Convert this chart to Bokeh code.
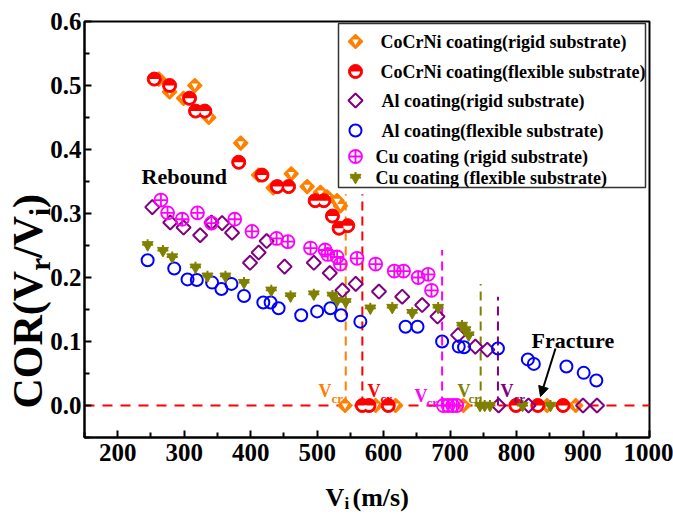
import numpy as np
from bokeh.plotting import figure
from bokeh.models import Range1d, FixedTicker, PrintfTickFormatter, Label, Arrow, NormalHead
from bokeh.embed import file_html
from bokeh.resources import INLINE

# ---------------- data ----------------
cocrni_rigid_v = [262, 278, 299, 316, 337, 385, 412, 434, 461, 485, 505, 515, 530, 535,
                  542, 588, 618, 720, 846, 889]
cocrni_rigid_cor = [0.51, 0.49, 0.48, 0.50, 0.45, 0.41, 0.36, 0.34, 0.362, 0.342, 0.333, 0.326, 0.32, 0.312,
                    0, 0, 0, 0, 0, 0]

cocrni_flex_v = [255, 278, 308, 317, 331, 382, 417, 440, 457, 497, 510, 523, 533, 546,
                 568, 578, 607, 799, 832, 870]
cocrni_flex_cor = [0.51, 0.50, 0.48, 0.46, 0.46, 0.38, 0.36, 0.342, 0.342, 0.32, 0.32, 0.296, 0.277, 0.281,
                   0, 0, 0, 0, 0, 0]

al_rigid_v = [252, 279, 299, 324, 341, 357, 372, 399, 412, 424, 451, 495, 519, 538, 558, 593,
              628, 658, 681, 712, 738, 756, 773, 818, 900, 921]
al_rigid_cor = [0.31, 0.286, 0.278, 0.266, 0.286, 0.285, 0.27, 0.223, 0.239, 0.257, 0.217, 0.223, 0.207,
                0.18, 0.19, 0.178, 0.17, 0.157, 0.139, 0.11, 0.092, 0.087, 0, 0, 0, 0]

al_flex_v = [245, 285, 305, 319, 342, 356, 371, 390, 419, 430, 442, 476, 500, 520, 536, 565,
             633, 651, 688, 713, 721, 772, 817, 826, 875, 901, 920]
al_flex_cor = [0.227, 0.214, 0.197, 0.196, 0.192, 0.182, 0.19, 0.171, 0.161, 0.161, 0.152, 0.141, 0.147,
               0.152, 0.141, 0.131, 0.123, 0.123, 0.10, 0.092, 0.091, 0.089, 0.072, 0.065, 0.061,
               0.051, 0.039]

cu_rigid_v = [265, 275, 297, 320, 341, 376, 402, 439, 456, 490, 512, 516, 530, 535, 560, 588,
              616, 630, 652, 667, 672, 690, 697, 704, 710]
cu_rigid_cor = [0.321, 0.301, 0.291, 0.301, 0.285, 0.291, 0.272, 0.261, 0.256, 0.246, 0.243, 0.236,
                0.232, 0.221, 0.23, 0.221, 0.21, 0.21, 0.20, 0.205, 0.18, 0, 0, 0, 0]

cu_flex_v = [245, 268, 282, 317, 335, 362, 390, 431, 460, 495, 523, 530, 543, 580, 613, 643,
             682, 718, 723, 728, 745, 752, 760, 809, 851]
cu_flex_cor = [0.251, 0.242, 0.232, 0.216, 0.202, 0.202, 0.192, 0.18, 0.171, 0.174, 0.172, 0.164,
               0.162, 0.152, 0.153, 0.145, 0.153, 0.125, 0.118, 0.11, 0, 0, 0, 0, 0]

# critical velocities (dashed markers) and the COR where each dashed line starts
vcr_v = [543, 568, 688, 746, 772]
vcr_top = [0.33, 0.33, 0.243, 0.19, 0.17]
vcr_series = ["cocrni_rigid", "cocrni_flex", "cu_rigid", "cu_flex", "al_rigid"]

x_ticks = [200, 300, 400, 500, 600, 700, 800, 900, 1000]
x_minor = [150, 250, 350, 450, 550, 650, 750, 850, 950]
y_ticks = [0.0, 0.1, 0.2, 0.3, 0.4, 0.5, 0.6]
y_minor = [-0.05, 0.05, 0.15, 0.25, 0.35, 0.45, 0.55]

legend_labels = ["CoCrNi coating(rigid substrate)", "CoCrNi coating(flexible substrate)",
                 "Al coating(rigid substrate)", "Al coating(flexible substrate)",
                 "Cu coating (rigid substrate)", "Cu coating (flexible substrate)"]

# ---------------- styling ----------------
ORANGE = "#FF8000"
RED = "#FF0000"
PURPLE = "#800080"
BLUE = "#0000FF"
MAGENTA = "#FF00FF"
OLIVE = "#808000"
COLORS = {"cocrni_rigid": ORANGE, "cocrni_flex": RED, "al_rigid": PURPLE,
          "al_flex": BLUE, "cu_rigid": MAGENTA, "cu_flex": OLIVE}
FONT = "Liberation Serif"

W, H = 673, 514
FL, FR, FT, FB = 84, 649, 21, 437          # plot box in canvas pixels
X0, X1, Y0, Y1 = 150, 1000, -0.05, 0.6     # axis limits

ppx = (FR - FL) / (X1 - X0)
ppy = (FB - FT) / (Y1 - Y0)
xr = Range1d(X0 - FL / ppx, X1 + (W - FR) / ppx)
yr = Range1d(Y0 - (H - FB) / ppy, Y1 + FT / ppy)


def dx(px):
    return X0 + (px - FL) / ppx


def dy(py):
    return Y1 - (py - FT) / ppy


p = figure(width=W, height=H, x_range=xr, y_range=yr,
           output_backend="svg", toolbar_location=None, min_border=0)
p.grid.visible = False
p.outline_line_color = None
p.background_fill_color = "white"
p.border_fill_color = "white"

p.xaxis.fixed_location = Y0
p.yaxis.fixed_location = X0
p.xaxis.bounds = (X0, X1)
p.yaxis.bounds = (Y0, Y1)
p.xaxis.ticker = FixedTicker(ticks=x_ticks, minor_ticks=x_minor)
p.yaxis.ticker = FixedTicker(ticks=y_ticks, minor_ticks=y_minor)
p.yaxis.formatter = PrintfTickFormatter(format="%.1f")
for ax in (p.xaxis[0], p.yaxis[0]):
    ax.axis_line_width = 2
    ax.axis_line_color = "black"
    ax.major_tick_in = 7
    ax.major_tick_out = 0
    ax.minor_tick_in = 5
    ax.minor_tick_out = 0
    ax.major_tick_line_width = 2
    ax.minor_tick_line_width = 2
    ax.major_label_text_font = FONT
    ax.major_label_text_font_style = "bold"
    ax.major_label_text_font_size = "25px"
    ax.major_label_text_color = "black"
p.xaxis.major_label_standoff = 6
p.yaxis.major_label_standoff = 3

# plot box (top / right sides)
p.quad(left=X0, right=X1, bottom=Y0, top=Y1, fill_color=None, line_color="black", line_width=2)

# zero reference line
p.line([X0, X1], [0, 0], line_color=RED, line_dash="10 8", line_width=2)

# critical-velocity dashed lines
p.segment(x0=vcr_v, y0=[0] * len(vcr_v), x1=vcr_v, y1=vcr_top,
          line_color=[COLORS[s] for s in vcr_series], line_dash="9 6", line_width=2)


def draw(kind, xs, ys):
    c = COLORS[kind]
    if kind == "cocrni_rigid":
        p.scatter(xs, ys, marker="square", angle=np.pi / 4, size=10, fill_color=c, line_color=c, line_width=1.5)
        p.scatter(xs, ys, marker="inverted_triangle", size=6.5, fill_color="white", line_color=None)
    elif kind == "cocrni_flex":
        p.scatter(xs, ys, marker="circle", size=14, fill_color=c, line_color=c, line_width=1)
        p.wedge(xs, ys, radius=4.6, radius_units="screen", start_angle=np.pi, end_angle=2 * np.pi,
                fill_color="white", line_color=None)
    elif kind == "al_rigid":
        p.scatter(xs, ys, marker="square", angle=np.pi / 4, size=10, fill_color=None, line_color=c, line_width=2)
    elif kind == "al_flex":
        p.scatter(xs, ys, marker="circle", size=12, fill_color=None, line_color=c, line_width=2)
    elif kind == "cu_rigid":
        p.scatter(xs, ys, marker="circle_cross", size=13, fill_color=None, line_color=c, line_width=1.8)
    elif kind == "cu_flex":
        p.scatter(xs, ys, marker="inverted_triangle", size=11, fill_color=c, line_color=c, line_width=1)
        p.scatter(xs, ys, marker="cross", size=11, fill_color=None, line_color=c, line_width=2)


draw("cocrni_rigid", cocrni_rigid_v, cocrni_rigid_cor)
draw("cocrni_flex", cocrni_flex_v, cocrni_flex_cor)
draw("al_rigid", al_rigid_v, al_rigid_cor)
draw("al_flex", al_flex_v, al_flex_cor)
draw("cu_rigid", cu_rigid_v, cu_rigid_cor)
draw("cu_flex", cu_flex_v, cu_flex_cor)


def lab(px, py, text, size, color="black", align="left", baseline="alphabetic", angle=0.0):
    p.add_layout(Label(x=dx(px), y=dy(py), text=text, text_font=FONT, text_font_style="bold",
                       text_font_size=f"{size}px", text_color=color, text_align=align,
                       text_baseline=baseline, angle=angle))


# V_cr labels (V + subscript cr)
vcr_label_pos = [(318, 331), (367, 380), (414, 426), (457, 468), (500, 513)]
vcr_label_base = [(390, 398), (390, 398), (395, 402), (390, 398), (390, 398)]
for s, (vx, cx), (vb, cb) in zip(vcr_series, vcr_label_pos, vcr_label_base):
    lab(vx, vb, "V", 18, COLORS[s])
    lab(cx, cb, "cr", 13, COLORS[s])

# annotations
lab(141, 176, "Rebound", 22)
lab(531, 340, "Fracture", 22)
p.add_layout(Arrow(x_start=dx(555), y_start=dy(348), x_end=dx(540), y_end=dy(396),
                   line_width=2, line_color="black",
                   end=NormalHead(size=10, fill_color="black", line_color="black")))

# legend (drawn by hand so the composite markers look right)
p.quad(left=dx(338), right=dx(645), top=dy(23), bottom=dy(187),
       fill_color="white", line_color="#333333", line_width=1.5)
legend_kinds = ["cocrni_rigid", "cocrni_flex", "al_rigid", "al_flex", "cu_rigid", "cu_flex"]
legend_rows = [41, 71, 100, 130, 156, 177]
legend_text_x = [380, 380, 381, 381, 375, 375]
for k, ry, tx, t in zip(legend_kinds, legend_rows, legend_text_x, legend_labels):
    draw(k, [dx(355)], [dy(ry)])
    lab(tx, ry, t, 18, baseline="middle")

# axis titles with subscripts
lab(325, 497, "V", 26)
lab(344, 503, "i", 17)
lab(352, 497, "(m/s)", 26)

F, FS = 42, 29
widths = {"COR(V": 3.277, "r": 0.444, "/V": 1.0, "i": 0.278, ")": 0.333}
y_pos = 408.0
for piece, sub in [("COR(V", False), ("r", True), ("/V", False), ("i", True), (")", False)]:
    size = FS if sub else F
    bx = 39 if sub else 27
    lab(bx, y_pos, piece, size, baseline="middle", angle=np.pi / 2)
    y_pos -= widths[piece] * size

open("out.html", "w").write(file_html(p, INLINE))
